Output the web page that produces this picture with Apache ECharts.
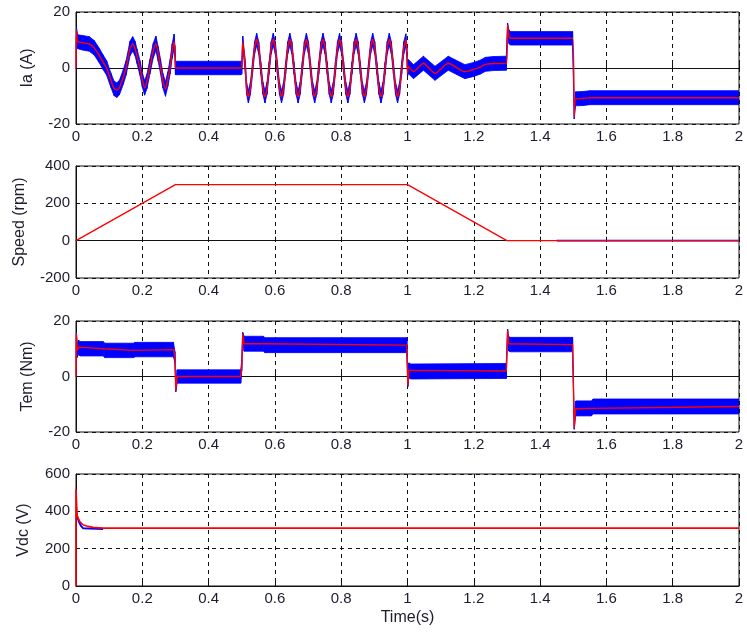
<!DOCTYPE html>
<html>
<head>
<meta charset="utf-8">
<script src="https://cdn.jsdelivr.net/npm/echarts@6/dist/echarts.min.js"></script>
<style>
  html, body { margin: 0; padding: 0; background: #fff; }
  #main { width: 747px; height: 633px; }
</style>
</head>
<body>
<div id="main"></div>
<script>
// 电流 Ia：[时间, 参考值(红), 蓝色实测噪声带半宽]
const iaPoints = [
  [0, 0, 0], [0.001, 13.6, 1.2], [0.005, 9.4, 2.5], [0.02, 9.0, 2.6], [0.04, 8.6, 2.6],
  [0.055, 7.2, 2.6], [0.07, 4.5, 2.6], [0.082, 2.0, 2.6], [0.0925, 0, 2.6], [0.105, -4.3, 2.6],
  [0.115, -7.3, 2.6], [0.123, -7.9, 2.6], [0.131, -7.0, 2.6], [0.143, -3.1, 2.6], [0.151, 0, 2.6],
  [0.163, 7.0, 2.6], [0.171, 8.6, 2.6], [0.178, 7.0, 2.6], [0.184, 4.2, 2.6], [0.193, 0, 2.6],
  [0.2, -4.2, 2.6], [0.207, -7.1, 2.6], [0.214, -4.8, 2.6], [0.223, 0.5, 2.6], [0.233, 6.2, 2.6],
  [0.241, 8.8, 2.6], [0.248, 5.0, 2.6], [0.255, 0.5, 2.6], [0.262, -4.5, 2.6], [0.27, -7.5, 2.6],
  [0.277, -4.0, 2.6], [0.284, 0.5, 2.6], [0.29, 6.0, 2.6], [0.296, 9.5, 2.6], [0.2985, 6.0, 2.0],
  [0.3, 0, 2.4], [0.305, 0, 2.4], [0.497, 0, 2.4], [0.5, 0, 2.2], [0.503, 9.4, 2.0],
  [0.511, 0, 2.2], [0.5145, -7.2, 2.2],
  [0.52, -10.3, 2.2], [0.52625, -7.2, 2.2], [0.5325, 0, 2.2], [0.53875, 7.2, 2.2],
  [0.545, 10.2, 2.2], [0.55125, 7.2, 2.2], [0.5575, 0, 2.2], [0.56375, -7.2, 2.2],
  [0.57, -10.3, 2.2], [0.57625, -7.2, 2.2], [0.5825, 0, 2.2], [0.58875, 7.2, 2.2],
  [0.595, 10.2, 2.2], [0.60125, 7.2, 2.2], [0.6075, 0, 2.2], [0.61375, -7.2, 2.2],
  [0.62, -10.3, 2.2], [0.62625, -7.2, 2.2], [0.6325, 0, 2.2], [0.63875, 7.2, 2.2],
  [0.645, 10.2, 2.2], [0.65125, 7.2, 2.2], [0.6575, 0, 2.2], [0.66375, -7.2, 2.2],
  [0.67, -10.3, 2.2], [0.67625, -7.2, 2.2], [0.6825, 0, 2.2], [0.68875, 7.2, 2.2],
  [0.695, 10.2, 2.2], [0.70125, 7.2, 2.2], [0.7075, 0, 2.2], [0.71375, -7.2, 2.2],
  [0.72, -10.3, 2.2], [0.72625, -7.2, 2.2], [0.7325, 0, 2.2], [0.73875, 7.2, 2.2],
  [0.745, 10.2, 2.2], [0.75125, 7.2, 2.2], [0.7575, 0, 2.2], [0.76375, -7.2, 2.2],
  [0.77, -10.3, 2.2], [0.77625, -7.2, 2.2], [0.7825, 0, 2.2], [0.78875, 7.2, 2.2],
  [0.795, 10.2, 2.2], [0.80125, 7.2, 2.2], [0.8075, 0, 2.2], [0.81375, -7.2, 2.2],
  [0.82, -10.3, 2.2], [0.82625, -7.2, 2.2], [0.8325, 0, 2.2], [0.83875, 7.2, 2.2],
  [0.845, 10.2, 2.2], [0.85125, 7.2, 2.2], [0.8575, 0, 2.2], [0.86375, -7.2, 2.2],
  [0.87, -10.3, 2.2], [0.87625, -7.2, 2.2], [0.8825, 0, 2.2], [0.88875, 7.2, 2.2],
  [0.895, 10.2, 2.2], [0.90125, 7.2, 2.2], [0.9075, 0, 2.2], [0.91375, -7.2, 2.2],
  [0.92, -10.3, 2.2], [0.92625, -7.2, 2.2], [0.9325, 0, 2.2], [0.93875, 7.2, 2.2],
  [0.945, 10.2, 2.2], [0.95125, 7.2, 2.2], [0.9575, 0, 2.2], [0.96375, -7.2, 2.2],
  [0.97, -10.3, 2.2], [0.97625, -7.2, 2.2], [0.9825, 0, 2.2], [0.98875, 7.2, 2.2],
  [0.995, 10.0, 2.2], [0.998, 6.0, 2.0],
  [1.0, -2.0, 1.0], [1.003, 0.5, 2.5], [1.018, -1.3, 2.5], [1.048, 1.7, 2.5], [1.083, -1.9, 2.5],
  [1.123, 1.7, 2.5], [1.173, -1.3, 2.5], [1.2, -0.5, 2.5], [1.219, 0.3, 2.5], [1.235, 1.3, 2.5],
  [1.26, 1.6, 2.5], [1.298, 1.7, 2.5], [1.302, 15.5, 0.5], [1.306, 11.2, 2.4], [1.31, 10.6, 2.4],
  [1.498, 10.6, 2.4], [1.503, -17.4, 0.8], [1.507, -11.0, 2.5], [1.53, -10.9, 2.5], [1.55, -10.6, 2.5],
  [2.0, -10.6, 2.5]
]

// 转速：参考(红) 与 实测(蓝，仅末段可见)
const speedRef = [[0, 0], [0.3, 300], [1.0, 300], [1.3, 0], [2.0, 0]]
const speedMeas = [[1.45, 0], [2.0, 0]]

// 电磁转矩 Tem：[时间, 参考值, 噪声带半宽]
const temPoints = [
  [0, 0, 0], [0.001, 15.5, 0.5], [0.004, 9.4, 2.5], [0.008, 10.6, 2.5], [0.012, 10.0, 2.6],
  [0.082, 10.0, 2.6], [0.087, 9.4, 2.6], [0.173, 9.4, 2.6], [0.178, 9.7, 2.6], [0.294, 9.7, 2.6],
  [0.2985, 7.0, 2.0], [0.301, -5.0, 0.5], [0.305, 0, 2.4], [0.497, 0, 2.4], [0.5, 4.0, 2.0],
  [0.503, 15.4, 0.5], [0.507, 11.8, 2.7], [0.565, 11.8, 2.7], [0.57, 11.3, 2.7], [0.998, 11.3, 2.7],
  [1.001, -3.2, 0.5], [1.004, 2.2, 2.7], [1.01, 1.8, 2.7], [1.298, 2.0, 2.7], [1.302, 16.6, 0.5],
  [1.305, 11.8, 2.6], [1.31, 11.5, 2.6], [1.498, 11.5, 2.6], [1.503, -18.5, 0.5], [1.507, -11.6, 2.7],
  [1.51, -11.5, 2.7], [1.555, -11.5, 2.7], [1.56, -10.8, 2.7], [2.0, -10.8, 2.7]
]

// 直流母线电压 Vdc
const vdcRef = [
  [0, 0], [0, 518], [0.002, 434], [0.004, 371], [0.012, 344], [0.022, 327],
  [0.032, 321], [0.052, 314], [0.082, 310], [2.0, 310]
]
const vdcMeas = [[0.004, 372], [0.008, 348], [0.015, 322], [0.022, 309], [0.082, 306]]

// 各子图：名称、纵轴范围
const panelNames = ['Ia (A)', 'Speed (rpm)', 'Tem (Nm)', 'Vdc (V)']
const yRanges = [[-20, 20, 20], [-200, 400, 200], [-20, 20, 20], [0, 600, 200]]
const xRange = [0, 2, 0.2]

const textColor = '#1c1c2c'
const fontFamily = 'Liberation Sans, Arial, sans-serif'
const gridRects = [
  { top: 12, height: 112 },
  { top: 166, height: 112 },
  { top: 321, height: 111 },
  { top: 474, height: 112 }
]
const nameGaps = [40, 48, 40, 44]

const grid = gridRects.map(r => ({
  left: 76, right: 8, top: r.top, height: r.height,
  show: true, borderColor: '#111', borderWidth: 1, backgroundColor: '#fff'
}))

const splitLine = { show: true, lineStyle: { color: '#111', type: [4, 4], width: 1 } }

const xAxis = gridRects.map((r, i) => ({
  type: 'value', gridIndex: i,
  min: xRange[0], max: xRange[1], interval: xRange[2],
  name: i === 3 ? 'Time(s)' : '',
  nameLocation: 'middle', nameGap: 24,
  nameTextStyle: { fontSize: 16, color: textColor, fontFamily },
  axisLine: { show: true, lineStyle: { color: '#111', width: 1 } },
  axisTick: { show: true, inside: true, length: 4, lineStyle: { color: '#111' } },
  axisLabel: { fontSize: 15, color: textColor, fontFamily, margin: 5, showMinLabel: true, showMaxLabel: true },
  splitLine
}))

const yAxis = yRanges.map((yr, i) => ({
  type: 'value', gridIndex: i,
  min: yr[0], max: yr[1], interval: yr[2],
  name: panelNames[i],
  nameLocation: 'middle', nameGap: nameGaps[i], nameRotate: 90,
  nameTextStyle: { fontSize: 16, color: textColor, fontFamily },
  axisLine: { show: true, lineStyle: { color: '#111', width: 1 } },
  axisTick: { show: true, inside: true, length: 4, lineStyle: { color: '#111' } },
  axisLabel: { fontSize: 15, color: textColor, fontFamily, margin: 6 },
  splitLine
}))

// 蓝色噪声带：逐段四边形，坐标由坐标轴换算
function bandSeries(points, idx) {
  return {
    type: 'custom', coordinateSystem: 'cartesian2d', xAxisIndex: idx, yAxisIndex: idx,
    data: points, silent: true, animation: false, clip: true,
    encode: { x: 0, y: 1 },
    renderItem: function (params, api) {
      const i = params.dataIndex
      if (i >= points.length - 1) return null
      const a = points[i], b = points[i + 1]
      const pts = [
        api.coord([a[0], a[1] + a[2]]),
        api.coord([b[0], b[1] + b[2]]),
        api.coord([b[0], b[1] - b[2]]),
        api.coord([a[0], a[1] - a[2]])
      ]
      return {
        type: 'polygon',
        shape: { points: pts },
        style: { fill: '#0000ff', stroke: '#0000ff', lineWidth: 0.8 }
      }
    }
  }
}

function lineSeries(data, idx, color, width, smooth) {
  return {
    type: 'line', xAxisIndex: idx, yAxisIndex: idx, data,
    symbol: 'none', smooth: smooth || false, animation: false, silent: true,
    lineStyle: { color, width }
  }
}

const series = [
  bandSeries(iaPoints, 0),
  lineSeries(iaPoints.map(p => [p[0], p[1]]), 0, '#ff0000', 1.4, 0.2),
  lineSeries(speedMeas, 1, '#0000ff', 1.8),
  lineSeries(speedRef, 1, '#ff0000', 1.3),
  bandSeries(temPoints, 2),
  lineSeries(temPoints.map(p => [p[0], p[1]]), 2, '#ff0000', 1.4),
  lineSeries(vdcMeas, 3, '#0000ff', 2),
  lineSeries(vdcRef, 3, '#ff0000', 1.6)
]

const chart = echarts.init(document.getElementById('main'), null, { renderer: 'canvas' })
chart.setOption({
  backgroundColor: '#fff',
  animation: false,
  grid,
  xAxis,
  yAxis,
  series
})
</script>
</body>
</html>
